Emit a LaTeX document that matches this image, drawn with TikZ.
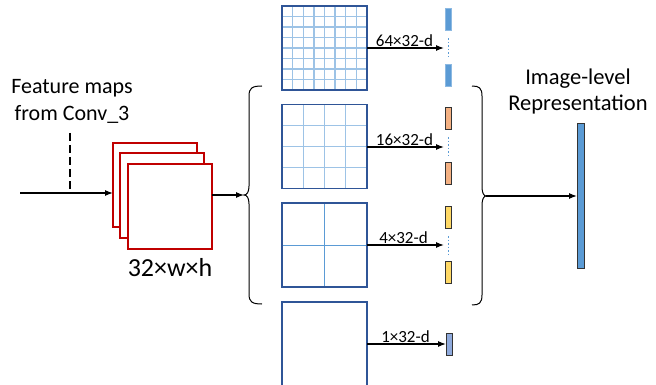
\documentclass[tikz,border=0pt]{standalone}
\usepackage{fontspec}
\setmainfont{Carlito}
\usetikzlibrary{arrows.meta,calc}
\definecolor{sqborder}{HTML}{2F5597}
\definecolor{gridlt}{HTML}{9DC3E6}
\definecolor{gridmd}{HTML}{5B9BD5}
\definecolor{redsq}{HTML}{C00000}
\definecolor{barblue}{HTML}{5B9BD5}
\definecolor{barorange}{HTML}{F4B183}
\definecolor{baryellow}{HTML}{FFD966}
\definecolor{barpurple}{HTML}{8FAADC}
\tikzset{
  arr/.style={draw=black, line width=1.2pt, -{Latex[length=8pt,width=6pt]}},
  redbox/.style={draw=redsq, line width=2pt, fill=white, minimum width=84pt, minimum height=84pt, inner sep=0pt, outer sep=0pt},
  gridsq/.style={draw=sqborder, line width=1.8pt, minimum width=85pt, minimum height=84pt, inner sep=0pt, outer sep=0pt},
  bar/.style={line width=0.8pt, minimum width=6pt, minimum height=22pt, inner sep=0pt, outer sep=0pt},
  lbl/.style={font=\fontsize{17}{19}\selectfont, inner sep=1pt},
  brace/.style={draw=black, line width=1pt},
  dots/.style={draw=barblue, line width=1pt, dash pattern=on 1.5pt off 2pt}
}
\begin{document}
\begin{tikzpicture}[x=1pt,y=-1pt]
\useasboundingbox (0,0) rectangle (656,385);

% input text and arrow
\node[font=\fontsize{22}{27}\selectfont, align=center] (ftxt) at (72,101) {Feature maps\\from Conv\_3};
\coordinate (in) at (20,193);
\coordinate (dtop) at (70,133);
\coordinate (djoin) at (70,193);

% red stacked squares
\node[redbox] (r1) at (155,185) {};
\node[redbox] (r2) at (161.5,195.5) {};
\node[redbox] (r3) at (169.5,206.5) {};
\node[font=\fontsize{26}{29}\selectfont] (dimtxt) at (170,268) {32×w×h};

\draw[line width=1.2pt, dash pattern=on 8pt off 4pt] (dtop) -- (djoin);
\draw[arr] (in) -- (r1.west |- in);

% left brace
\coordinate (tipL) at (244,195);
\draw[brace] (262,86) .. controls (252,86) and (249,88) .. (249,96) -- (249,186)
  .. controls (249,192) and (247,195) .. (tipL)
  .. controls (247,195) and (249,198) .. (249,204) -- (249,294)
  .. controls (249,302) and (252,304) .. (262,304);
\draw[arr] (r3.east |- tipL) -- (tipL);

% grid squares
\node[gridsq] (g1) at (324.5,48) {};
\node[gridsq] (g2) at (324.5,146.5) {};
\node[gridsq] (g3) at (324.5,245) {};
\node[gridsq] (g4) at (324.5,344) {};
\foreach \i in {1,...,7}{
  \draw[gridlt, line width=1.3pt] ($(g1.north west)!\i/8!(g1.north east)$) -- ($(g1.south west)!\i/8!(g1.south east)$);
  \draw[gridlt, line width=1.3pt] ($(g1.north west)!\i/8!(g1.south west)$) -- ($(g1.north east)!\i/8!(g1.south east)$);
}
\foreach \i in {1,2,3}{
  \draw[gridlt, line width=1.4pt] ($(g2.north west)!\i/4!(g2.north east)$) -- ($(g2.south west)!\i/4!(g2.south east)$);
  \draw[gridlt, line width=1.4pt] ($(g2.north west)!\i/4!(g2.south west)$) -- ($(g2.north east)!\i/4!(g2.south east)$);
}
\draw[gridmd, line width=1pt] (g3.north) -- (g3.south);
\draw[gridmd, line width=1pt] (g3.west) -- (g3.east);
\node[gridsq] at (g1) {};
\node[gridsq] at (g2) {};
\node[gridsq] at (g3) {};

% bars
\node[bar, fill=barblue, draw=barblue!70!white] (b1a) at (448.5,19.5) {};
\node[bar, fill=barblue, draw=barblue!70!white] (b1b) at (448.5,75.5) {};
\node[bar, fill=barorange, draw=black!80] (b2a) at (448.5,118.5) {};
\node[bar, fill=barorange, draw=black!80] (b2b) at (448.5,173.5) {};
\node[bar, fill=baryellow, draw=black!80] (b3a) at (448.5,217) {};
\node[bar, fill=baryellow, draw=black!80] (b3b) at (448.5,272.5) {};
\node[bar, fill=barpurple, draw=black!80] (b4) at (449,344) {};
\draw[dots] (b1a.south) ++(0,8) coordinate (d1s) -- ++(0,20) coordinate (d1e);
\draw[dots] (b2a.south) ++(0,8) coordinate (d2s) -- ++(0,20) coordinate (d2e);
\draw[dots] (b3a.south) ++(0,8) coordinate (d3s) -- ++(0,20) coordinate (d3e);

% arrows with labels
\coordinate (e1) at (444,48);
\coordinate (e2) at (444,147);
\coordinate (e3) at (444,245);
\draw[arr] (g1.east |- e1) -- node[lbl, above, xshift=-1pt] (l1) {64×32-d} (e1);
\draw[arr] (g2.east |- e2) -- node[lbl, above, xshift=-1pt] (l2) {16×32-d} (e2);
\draw[arr] (g3.east |- e3) -- node[lbl, above, xshift=-2pt] (l3) {4×32-d} (e3);
\draw[arr] (g4.east |- b4) -- node[lbl, above, xshift=-1pt] (l4) {1×32-d} (b4.west);

% right brace
\coordinate (tipR) at (486,196);
\draw[brace] (472,86) .. controls (479,86) and (482,88) .. (482,96) -- (482,187)
  .. controls (482,193) and (484,196) .. (tipR)
  .. controls (484,196) and (482,199) .. (482,205) -- (482,295)
  .. controls (482,303) and (479,305) .. (472,305);

% final bar
\node[fill=barblue, draw=black!80, line width=0.8pt, minimum width=7pt, minimum height=145pt, inner sep=0pt, outer sep=0pt] (big) at (580.5,195.5) {};
\draw[arr] (tipR) -- (big.west |- tipR);
\node[font=\fontsize{22.5}{26}\selectfont, align=center] (rtxt) at (578,92) {Image-level\\Representation};
\end{tikzpicture}
\end{document}
